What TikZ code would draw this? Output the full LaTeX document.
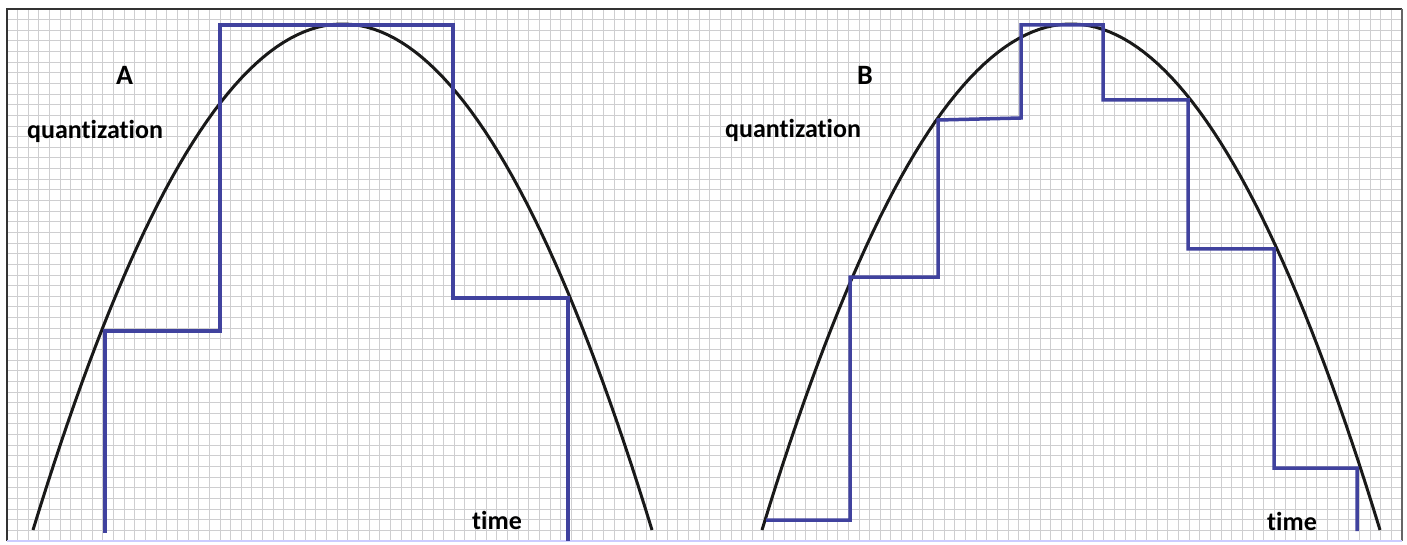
\documentclass[tikz,border=0pt]{standalone}
\usepackage{fontspec}
\setmainfont{Carlito}[Ligatures=NoCommon]
\usepackage{tikz}

\definecolor{stepblue}{RGB}{64,66,158}
\definecolor{paperline}{RGB}{206,206,208}

\begin{document}
\begin{tikzpicture}[
  x=1pt, y=-1pt,
  gridline/.style={draw=paperline, line width=1pt},
  curve/.style={draw=black!90, line width=3pt},
  stair/.style={draw=stepblue, line width=3.5pt, line join=miter},
  lbl/.style={font=\fontsize{26}{26}\selectfont\bfseries, inner sep=0pt, anchor=base west},
]
\useasboundingbox (0,0) rectangle (1407,545);
\fill[white] (0,0) rectangle (1407,545);
% squared paper
\foreach \i in {0,...,131}
  \draw[gridline] ({7+\i*10.65},9) -- ({7+\i*10.65},541);
\foreach \j in {0,...,50}
  \draw[gridline] (7,{9+\j*10.64}) -- (1402,{9+\j*10.64});
\draw[black!80, line width=2pt] (7,541) -- (7,9) -- (1402,9);
\draw[black!60, line width=1.5pt] (1402,9) -- (1402,541);
\draw[blue!20, line width=1.5pt] (7,541) -- (1402,541);

% panel A
\draw[curve] plot[domain=33:652, samples=90] (\x, {24+506*((\x-342.5)/309.5)^2});
\draw[stair] (105,533) -- (105,331) -- (220,331) -- (220,25) -- (453,25)
  -- (453,298) -- (568,298) -- (568,541);
\node[lbl] (labA) at (116,85) {\fontsize{28}{28}\selectfont A};
\node[lbl] (quantA) at (27,139) {quantization};
\node[lbl] (timeA) at (472,529) {time};

% panel B
\draw[curve] plot[domain=762:1380, samples=90] (\x, {24+506*((\x-1071)/309)^2});
\draw[stair] (766,520) -- (850,520) -- (850,277) -- (938,277) -- (938,120)
  -- (1021,118) -- (1021,25) -- (1103,25) -- (1103,100) -- (1188,100)
  -- (1188,249) -- (1274,249) -- (1274,468) -- (1357,468) -- (1357,531);
\node[lbl] (labB) at (857,85) {\fontsize{28}{28}\selectfont B};
\node[lbl] (quantB) at (725,138) {quantization};
\node[lbl] (timeB) at (1267,530) {time};
\end{tikzpicture}
\end{document}
